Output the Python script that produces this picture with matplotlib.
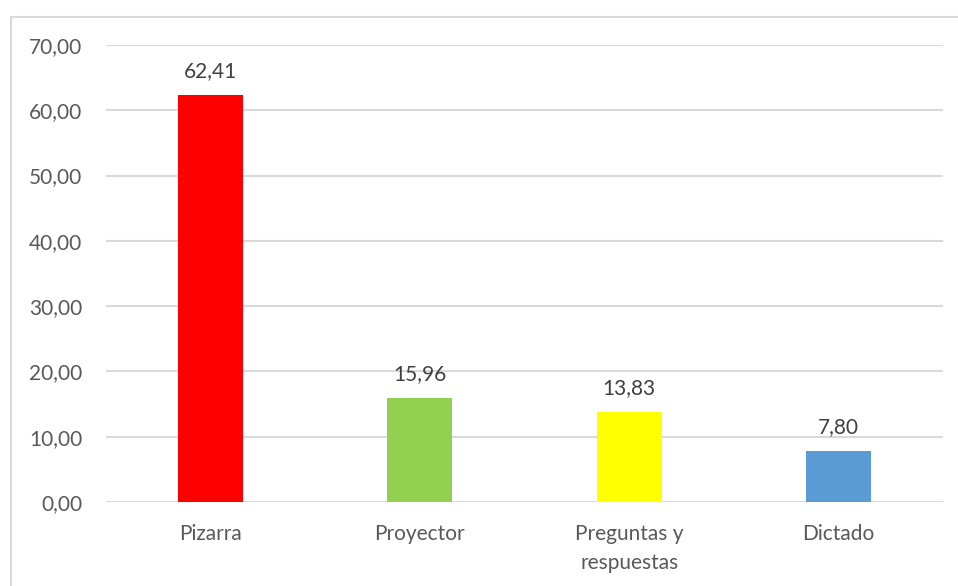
import matplotlib
matplotlib.use("Agg")
import matplotlib.pyplot as plt
from matplotlib.patches import Rectangle

# datos
categorias = ["Pizarra", "Proyector", "Preguntas y\nrespuestas", "Dictado"]
valores = [62.41, 15.96, 13.83, 7.80]
colores = ["#FF0000", "#92D050", "#FFFF00", "#5B9BD5"]
yticks = [0, 10, 20, 30, 40, 50, 60, 70]

plt.rcParams['font.family'] = ['Lato', 'DejaVu Sans']
txt = "#595959"

fig = plt.figure(figsize=(9.58, 5.86), dpi=100)
ax = fig.add_axes([106/958, 84/586, 837/958, 457/586])

# marco del grafico (solo se ve arriba e izquierda)
fig.patches.append(Rectangle((11/958, -0.1), 1.2, (586-17)/586 + 0.1,
                             transform=fig.transFigure, fill=False,
                             edgecolor="#D9D9D9", linewidth=1.5))

x = range(len(categorias))
ax.bar(x, valores, width=0.31, color=colores, zorder=3)

for i, v in zip(x, valores):
    ax.annotate(f"{v:.2f}".replace(".", ","), (i, v), xytext=(0, 10),
                textcoords="offset points", ha="center", va="bottom",
                fontsize=15, color="#404040")

ax.set_xlim(-0.5, 3.5)
ax.set_ylim(0, 70)
ax.set_yticks(yticks)
ax.set_yticklabels([f"{t:.2f}".replace(".", ",") for t in yticks])
ax.set_xticks(list(x))
ax.set_xticklabels(categorias, linespacing=1.55)
ax.tick_params(axis="y", length=0, pad=17, labelsize=15, labelcolor=txt)
ax.tick_params(axis="x", length=0, pad=16, labelsize=15, labelcolor=txt)
ax.grid(axis="y", color="#D9D9D9", linewidth=1.5, zorder=0)
for s in ax.spines.values():
    s.set_visible(False)

fig.savefig("out.png", dpi=100)
